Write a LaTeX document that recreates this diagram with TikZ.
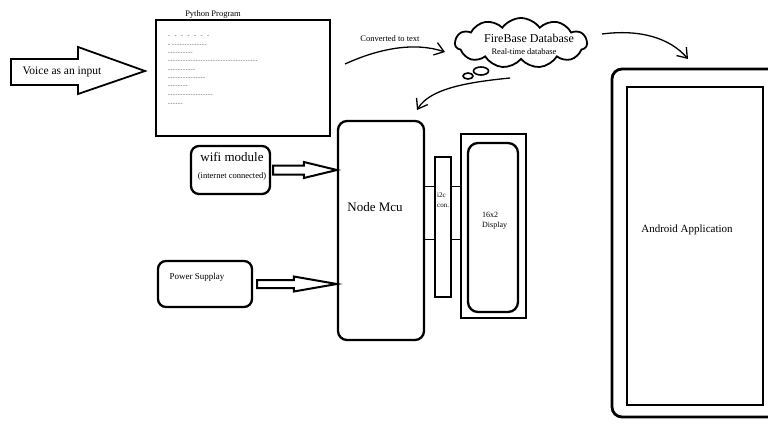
\documentclass[tikz,border=0pt]{standalone}
\usepackage{fontspec}
\setmainfont{Liberation Serif}
\usetikzlibrary{shapes.symbols,shapes.geometric,arrows.meta,calc}

\newcommand\hyph[1]{\foreach\i in {1,...,#1}{-\kern0.5pt}}
\newcommand\fs[1]{\fontsize{#1}{#1}\selectfont}
\newcommand\blkarrow[5]{%
  \draw[blk] let \p1=(#1), \p2=(#2) in
    (\x1,\y1+#3) -- (\x2-#5,\y1+#3) -- (\x2-#5,\y1+#4) -- (\x2,\y1)
    -- (\x2-#5,\y1-#4) -- (\x2-#5,\y1-#3) -- (\x1,\y1-#3) -- cycle;}

\begin{document}
\begin{tikzpicture}[x=1pt,y=-1pt,
  thinbox/.style={draw, line width=1.3pt, inner sep=0pt, rectangle},
  thickbox/.style={draw, line width=2.3pt, inner sep=0pt, rectangle},
  rbox/.style={thickbox, rounded corners=8pt},
  lbl/.style={inner sep=0pt},
  dashtxt/.style={inner sep=0pt, anchor=west, text=black!75, font=\fs{6}},
  conn/.style={line width=1.3pt, -{Straight Barb[length=9pt,width=13pt]}},
  blk/.style={draw, line width=2pt, fill=white, line join=miter},
  bubble/.style={ellipse, draw, line width=1.6pt, inner sep=0pt}
]
\useasboundingbox (0,0) rectangle (768,423);

% Voice input block arrow
\node[lbl, font=\fs{11.5}] (voice) at (62,72) {Voice as an input};
\draw[line width=1.8pt, line join=miter]
  (11,59) -- (78,59) -- (78,47) -- (145,71) -- (78,94) -- (78,85) -- (11,85) -- cycle;

% Python program
\node[thinbox, minimum width=174pt, minimum height=116pt] (py) at (243,78) {};
\node[lbl, font=\fs{8.5}] (pytitle) at (213,14) {Python Program};
\node[dashtxt] (d1) at (168,37) {-\hspace{4.5pt}-\hspace{4.5pt}-\hspace{4.5pt}-\hspace{4.5pt}-\hspace{4.5pt}-\hspace{4.5pt}-};
\node[dashtxt] (d2) at (168,46) {-\hspace{2pt}\hyph{14}};
\node[dashtxt] (d3) at (168,54) {\hyph{10}};
\node[dashtxt] (d4) at (168,62) {\hyph{36}};
\node[dashtxt] (d5) at (168,71) {\hyph{11}};
\node[dashtxt] (d6) at (168,79) {\hyph{15}};
\node[dashtxt] (d7) at (168,87) {\hyph{8}};
\node[dashtxt] (d8) at (168,96) {\hyph{18}};
\node[dashtxt] (d9) at (168,105) {\hyph{6}};

% Converted to text
\node[lbl, font=\fs{8.5}] (conv) at (390,39) {Converted to text};
\coordinate (c1s) at (345,64);
\coordinate (c1e) at (445,52);
\draw[conn] (c1s) .. controls (380,48) and (415,42) .. (c1e);

% Firebase cloud
\node[cloud, draw, line width=1.8pt, cloud puffs=11, cloud puff arc=110, aspect=2.6,
  minimum width=132pt, minimum height=50pt, inner sep=0pt] (fb) at (521,43) {};
\node[bubble, minimum width=15pt, minimum height=8pt] (b2) at (481,71) {};
\node[bubble, minimum width=10pt, minimum height=6pt] (b1) at (468,76) {};
\node[lbl, font=\fs{12}] (fbt) at (529,38) {FireBase Database};
\node[lbl, font=\fs{8.5}] (fbs) at (524,52) {Real-time database};

% Arrows from cloud
\coordinate (c2s) at (510,78);
\coordinate (c3s) at (602,34);
\coordinate (c3e) at (688,59);
\coordinate (c2e) at (417,110);
\draw[conn] (c2s) .. controls (470,82) and (430,88) .. (c2e);
\draw[conn] (c3s) .. controls (640,29) and (670,38) .. (c3e);

% Node MCU
\node[rbox, rounded corners=9pt, minimum width=86pt, minimum height=219pt] (mcu) at (381,230.5) {};
\node[lbl, font=\fs{13}] (mcut) at (375,207) {Node Mcu};

% i2c
\node[thinbox, minimum width=16pt, minimum height=140pt] (i2c) at (443,227) {};
\node[lbl, font=\fontsize{7}{9.5}\selectfont, align=left, anchor=north west] (i2ct) at (437,193) {i2c\\con.};

% Display
\node[thickbox, line width=2pt, minimum width=65pt, minimum height=184pt] (dispo) at (493.5,226) {};
\node[rbox, rounded corners=10pt, minimum width=50pt, minimum height=169pt] (dispi) at (493,227.5) {};
\node[lbl, font=\fontsize{8}{10}\selectfont, align=left, anchor=north west] (dispt) at (482,212) {16x2\\Display};

\coordinate (ya) at (0,186);
\coordinate (yb) at (0,239);
\draw[line width=1pt] (mcu.east |- ya) -- (i2c.west |- ya);
\draw[line width=1pt] (mcu.east |- yb) -- (i2c.west |- yb);
\draw[line width=1pt] (i2c.east |- ya) -- (dispo.west |- ya);
\draw[line width=1pt] (i2c.east |- yb) -- (dispo.west |- yb);

% WiFi module
\node[rbox, minimum width=79pt, minimum height=48pt] (wifi) at (230.5,170) {};
\node[lbl, font=\fs{13}] (wifit) at (232,157) {wifi module};
\node[lbl, font=\fs{8.5}] (wifis) at (232,176) {(internet connected)};
\coordinate (wa) at ($(wifi.east)+(2,0)$);
\blkarrow{wa}{mcu.west |- wifi.east}{4.5pt}{8pt}{33pt}

% Power supply
\node[rbox, minimum width=94pt, minimum height=46pt] (pow) at (205,284) {};
\node[lbl, font=\fs{9}] (powt) at (197,277) {Power Supplay};
\coordinate (pa) at ($(pow.east)+(4,0)$);
\blkarrow{pa}{mcu.west |- pow.east}{4pt}{7.5pt}{43pt}

% Android
\begin{scope}
\clip (0,0) rectangle (768,423);
\node[thickbox, line width=2.8pt, rounded corners=10pt, minimum width=178pt, minimum height=348pt] (ando) at (701,243) {};
\end{scope}
\node[thickbox, line width=2pt, minimum width=136pt, minimum height=318pt] (andi) at (695,246) {};
\node[lbl, font=\fs{11}] (andt) at (687,230) {Android Application};
\end{tikzpicture}
\end{document}
